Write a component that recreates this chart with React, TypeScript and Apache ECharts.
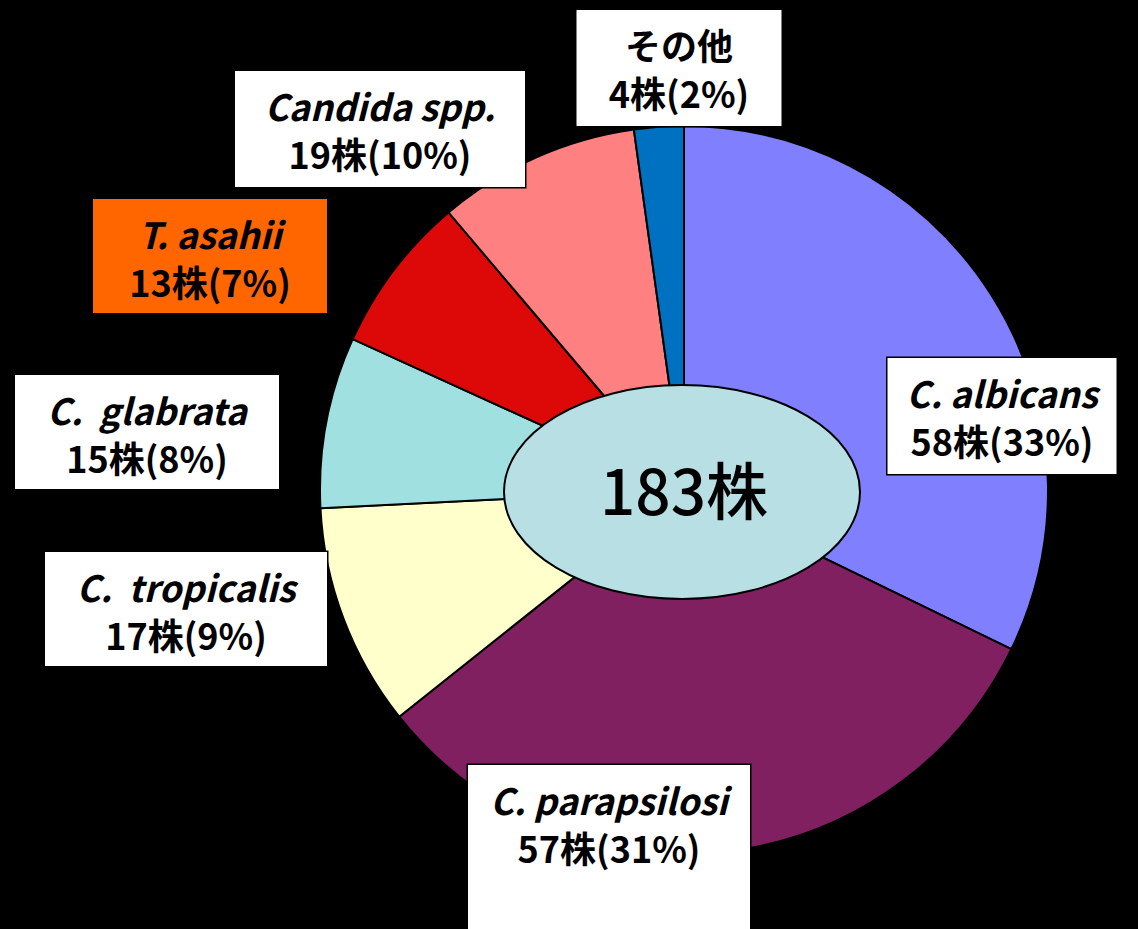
import React, { useEffect, useRef } from "react";
import * as echarts from "echarts";

const categories = ["C. albicans", "C. parapsilosi", "C.  tropicalis", "C.  glabrata", "T. asahii", "Candida spp.", "その他"];
const counts = [58, 57, 17, 15, 13, 19, 4];
const percentLabels = [33, 31, 9, 8, 7, 10, 2];
// slice sizes (%) as drawn in the picture
const sliceShares = [32.2, 32.1, 9.9, 7.6, 7.0, 9.0, 2.2];
const italicName = [true, true, true, true, true, true, false];
const sliceColors = ["#8080FF", "#802060", "#FFFFCC", "#A0E0E0", "#DD0808", "#FF8080", "#0070C0"];
const boxColors = ["#FFFFFF", "#FFFFFF", "#FFFFFF", "#FFFFFF", "#FF6600", "#FFFFFF", "#FFFFFF"];
const unit = "株";

// label box layout: center x, top y, width, bottom padding
const boxLayout = [
  { cx: 1002, top: 358, w: 229, pb: 10 },
  { cx: 609, top: 765, w: 282, pb: 120 },
  { cx: 186, top: 552, w: 282, pb: 8 },
  { cx: 147, top: 375, w: 264, pb: 8 },
  { cx: 210, top: 199, w: 234, pb: 8 },
  { cx: 380, top: 71, w: 290, pb: 10 },
  { cx: 679, top: 10, w: 205, pb: 10 },
];

const FONT = "'Noto Sans CJK JP', 'Noto Sans', sans-serif";

export default function App() {
  const ref = useRef<HTMLDivElement>(null);
  useEffect(() => {
    if (!ref.current) return;
    const chart = echarts.init(ref.current, null, { renderer: "svg" });
    const total = counts.reduce((a, b) => a + b, 0);
    const data = categories.map((name, i) => ({
      name,
      value: sliceShares[i],
      itemStyle: { color: sliceColors[i] },
      label: {
        backgroundColor: boxColors[i],
        borderColor: "#000",
        borderWidth: 1.5,
        width: boxLayout[i].w,
        padding: [10, 0, boxLayout[i].pb, 0],
      },
    }));
    chart.setOption({
      animation: false,
      backgroundColor: "#000",
      series: [
        {
          type: "pie",
          center: [684, 490],
          radius: 364,
          startAngle: 90,
          clockwise: true,
          data,
          itemStyle: { borderColor: "#000", borderWidth: 2 },
          labelLine: { show: false },
          label: {
            show: true,
            position: "outside",
            align: "center",
            formatter: (p: any) => {
              const i = p.dataIndex;
              const style = italicName[i] ? "n" : "j";
              return `{${style}|${categories[i]}}\n{v|${counts[i]}${unit}(${percentLabels[i]}%)}`;
            },
            rich: {
              n: { fontFamily: FONT, fontSize: 36, fontWeight: "bold", fontStyle: "italic", color: "#000", lineHeight: 48, align: "center" },
              j: { fontFamily: FONT, fontSize: 36, fontWeight: "bold", color: "#000", lineHeight: 48, align: "center" },
              v: { fontFamily: FONT, fontSize: 36, fontWeight: "bold", color: "#000", lineHeight: 48, align: "center" },
            },
          },
          labelLayout: (params: any) => {
            const b = boxLayout[params.dataIndex];
            return { x: b.cx, y: b.top, align: "center", verticalAlign: "top" };
          },
        },
      ],
      graphic: [
        {
          type: "ellipse",
          z: 100,
          shape: { cx: 682, cy: 492, rx: 178, ry: 107 },
          style: { fill: "#B8DFE3", stroke: "#000", lineWidth: 2 },
        },
        {
          type: "text",
          z: 101,
          x: 684,
          y: 488,
          style: {
            text: `${total}${unit}`,
            fontFamily: FONT,
            fontSize: 62,
            fontWeight: 500,
            fill: "#000",
            align: "center",
            verticalAlign: "middle",
          },
        },
      ],
    });
    return () => chart.dispose();
  }, []);
  return <div ref={ref} style={{ position: "fixed", left: 0, top: 0, width: 1138, height: 929 }} />;
}
